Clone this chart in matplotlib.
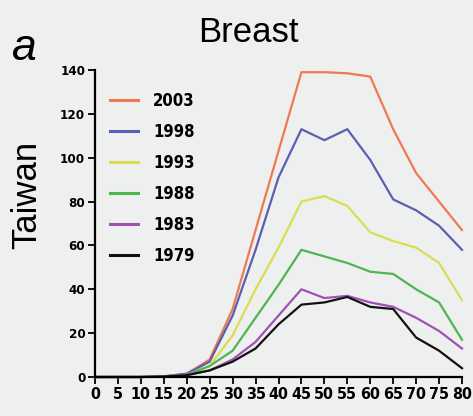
import matplotlib
matplotlib.use("Agg")
import matplotlib.pyplot as plt

# Breast cancer incidence by age, Taiwan, per birth-period cohort
ages = [0, 5, 10, 15, 20, 25, 30, 35, 40, 45, 50, 55, 60, 65, 70, 75, 80]
years = ["2003", "1998", "1993", "1988", "1983", "1979"]
rate_2003 = [0, 0, 0, 0.3, 1.5, 8, 31, 67, 103, 139, 139, 138.5, 137, 113, 93, 80, 67]
rate_1998 = [0, 0, 0, 0.3, 1.5, 7, 28, 58, 91, 113, 108, 113, 99, 81, 76, 69, 58]
rate_1993 = [0, 0, 0, 0.2, 1, 5, 19, 40, 59, 80, 82.5, 78, 66, 62, 59, 52, 35]
rate_1988 = [0, 0, 0, 0.2, 1, 5, 12, 27, 42, 58, 55, 52, 48, 47, 40, 34, 17]
rate_1983 = [0, 0, 0, 0.2, 1, 3, 8, 16, 28, 40, 36, 37, 34, 32, 27, 21, 13]
rate_1979 = [0, 0, 0, 0.2, 0.8, 3, 7, 13, 24, 33, 34, 36.5, 32, 31, 18, 12, 4]
series = [rate_2003, rate_1998, rate_1993, rate_1988, rate_1983, rate_1979]
colors = ["#ee7a52", "#5b5fb2", "#dcdc52", "#4fb54f", "#a052b4", "#111111"]

xticks = list(range(0, 81, 5))
yticks = list(range(0, 141, 20))

bg = "#eef0ef"
sans = ["Liberation Sans", "DejaVu Sans"]
tick_font = {"family": "DejaVu Sans", "stretch": "condensed", "weight": "bold"}

fig = plt.figure(figsize=(4.73, 4.16), dpi=100, facecolor=bg)
ax = fig.add_axes([95 / 473, 1 - 377 / 416, 367 / 473, 307 / 416], facecolor=bg)

for vals, col, lab in zip(series, colors, years):
    ax.plot(ages, vals, color=col, lw=1.6, label=lab, clip_on=False)

ax.set_xlim(0, 80)
ax.set_ylim(0, 140)
ax.set_xticks(xticks)
ax.set_yticks(yticks)
for s in ("top", "right"):
    ax.spines[s].set_visible(False)
for s in ("left", "bottom"):
    ax.spines[s].set_linewidth(1.6)
ax.tick_params(axis="both", direction="out", length=5, width=1.3, pad=2)
for t in ax.get_xticklabels():
    t.set(**tick_font, fontsize=11.5)
for t in ax.get_yticklabels():
    t.set(**tick_font, fontsize=9.5)

leg = ax.legend(loc="upper left", bbox_to_anchor=(110 / 473, 1 - 92 / 416),
                bbox_transform=fig.transFigure, frameon=False,
                prop={**tick_font, "size": 12},
                handlelength=1.7, handletextpad=0.9, labelspacing=0.78,
                borderpad=0, borderaxespad=0)
for line in leg.get_lines():
    line.set_linewidth(2.2)

fig.text(248 / 473, 1 - 42 / 416, "Breast", ha="center", va="baseline",
         fontsize=25, family=sans)
fig.text(12 / 473, 1 - 60 / 416, "a", ha="left", va="baseline",
         fontsize=32, style="italic", family=sans)
fig.text(27 / 473, 1 - 195 / 416, "Taiwan", ha="center", va="center",
         rotation=90, fontsize=25, family=sans)

fig.savefig("out.png", dpi=100, facecolor=bg)
